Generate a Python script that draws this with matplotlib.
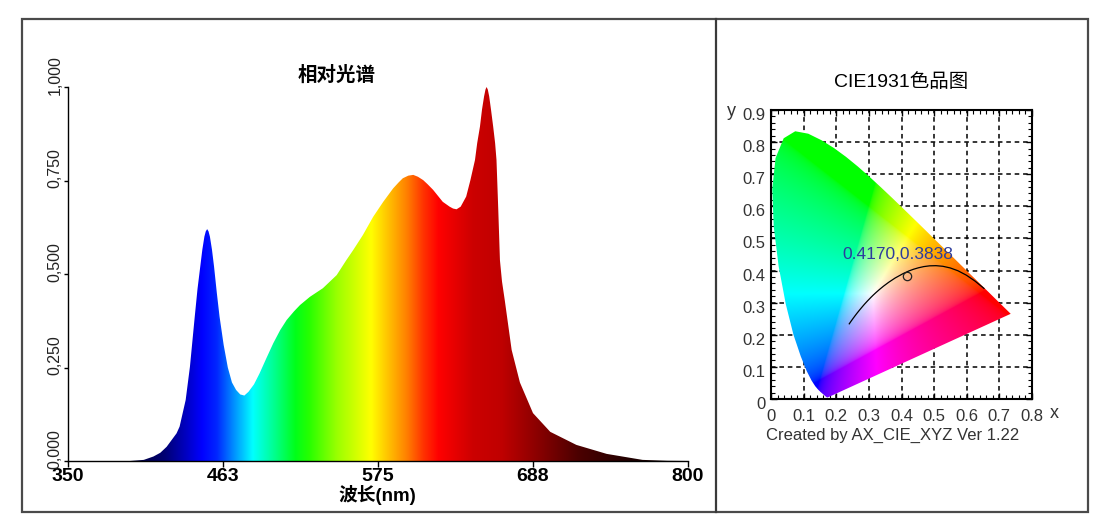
import numpy as np
import matplotlib
matplotlib.use("Agg")
from matplotlib import pyplot as plt
from matplotlib.patches import Polygon, Rectangle
from matplotlib.lines import Line2D
from matplotlib.transforms import ScaledTranslation

# relative spectrum
wavelength = [350, 380, 395, 405, 412, 417, 421.6, 426, 428.8, 431, 435.4, 438.5, 442, 444,
              446, 447.5, 449, 450, 451, 452, 453, 454.5, 456, 458, 460, 463, 466, 469, 472,
              475, 478, 481, 485, 489, 494, 499, 504, 508.7, 514, 518.4, 525.6, 535, 545,
              552, 557, 564, 571.5, 578.8, 586, 590, 593, 597, 600.6, 604, 607.8, 611, 615,
              622, 627, 629.5, 632, 635, 639, 642, 645.4, 647, 649, 650.5, 652, 653, 653.8,
              654.7, 655.7, 657, 658.6, 660, 661, 662.3, 663.5, 665, 667, 672, 678, 687.5,
              700, 719, 741, 767, 785, 800]
intensity = [0, 0, 0, 0.003, 0.012, 0.022, 0.038, 0.06, 0.074, 0.092, 0.163, 0.252, 0.386, 0.46,
             0.52, 0.565, 0.6, 0.614, 0.62, 0.614, 0.6, 0.565, 0.52, 0.45, 0.386, 0.31, 0.25, 0.21, 0.19,
             0.178, 0.175, 0.185, 0.205, 0.234, 0.275, 0.315, 0.35, 0.377, 0.40, 0.417, 0.439, 0.462, 0.497,
             0.537, 0.564, 0.604, 0.653, 0.693, 0.729, 0.745, 0.756, 0.763, 0.765, 0.760, 0.751, 0.74, 0.725,
             0.693, 0.68, 0.675, 0.673, 0.68, 0.707, 0.75, 0.805, 0.85, 0.894, 0.94, 0.975, 0.993, 1.0,
             0.993, 0.975, 0.94, 0.894, 0.85, 0.805, 0.671, 0.537, 0.48, 0.43, 0.297, 0.21, 0.128,
             0.078, 0.043, 0.019, 0.003, 0.0005, 0]
x_ticks = [350, 462.5, 575, 687.5, 800]
x_ticklabels = ["350", "463", "575", "688", "800"]
y_ticks = [0, 0.25, 0.5, 0.75, 1.0]
y_ticklabels = ["0,000", "0,250", "0,500", "0,750", "1,000"]

# colour stops used for the rainbow fill (wavelength -> rgb)
stop_wl = [350, 400, 420, 435, 447, 458, 470, 484, 500, 515, 525, 545, 570, 583, 596,
           608, 619, 644, 665, 690, 720, 760, 800]
stop_rgb = [(0, 0, 0.05), (0, 0, 0.25), (0, 0, 0.45), (0, 0, 0.75), (0, 0, 1), (0, 0.15, 1),
            (0, 0.55, 1), (0, 1, 1), (0, 1, 0.55), (0, 1, 0.1), (0.15, 1, 0), (0.6, 1, 0),
            (1, 1, 0), (1, 0.75, 0), (1, 0.5, 0), (1, 0.2, 0), (1, 0, 0), (0.8, 0, 0),
            (0.75, 0, 0), (0.55, 0, 0), (0.3, 0, 0), (0.12, 0, 0), (0.05, 0, 0)]

# CIE 1931 spectral locus, 380-700 nm in 5 nm steps
locus_x = [0.1741, 0.1740, 0.1738, 0.1736, 0.1733, 0.1730, 0.1726, 0.1721, 0.1714, 0.1703,
           0.1689, 0.1669, 0.1644, 0.1611, 0.1566, 0.1510, 0.1440, 0.1355, 0.1241, 0.1096,
           0.0913, 0.0687, 0.0454, 0.0235, 0.0082, 0.0039, 0.0139, 0.0389, 0.0743, 0.1142,
           0.1547, 0.1929, 0.2296, 0.2658, 0.3016, 0.3373, 0.3731, 0.4087, 0.4441, 0.4788,
           0.5125, 0.5448, 0.5752, 0.6029, 0.6270, 0.6482, 0.6658, 0.6801, 0.6915, 0.7006,
           0.7079, 0.7140, 0.7190, 0.7230, 0.7260, 0.7283, 0.7300, 0.7311, 0.7320, 0.7327,
           0.7334, 0.7340, 0.7344, 0.7346, 0.7347]
locus_y = [0.0050, 0.0050, 0.0049, 0.0049, 0.0048, 0.0048, 0.0048, 0.0048, 0.0051, 0.0058,
           0.0069, 0.0086, 0.0109, 0.0138, 0.0177, 0.0227, 0.0297, 0.0399, 0.0578, 0.0868,
           0.1327, 0.2007, 0.2950, 0.4127, 0.5384, 0.6548, 0.7502, 0.8120, 0.8338, 0.8262,
           0.8059, 0.7816, 0.7543, 0.7243, 0.6923, 0.6589, 0.6245, 0.5896, 0.5547, 0.5202,
           0.4866, 0.4544, 0.4242, 0.3965, 0.3725, 0.3514, 0.3340, 0.3197, 0.3083, 0.2993,
           0.2920, 0.2859, 0.2809, 0.2770, 0.2740, 0.2717, 0.2700, 0.2689, 0.2680, 0.2673,
           0.2666, 0.2660, 0.2656, 0.2654, 0.2653]

# Planckian locus, 1000 K ... infinity
planck_x = [0.6528, 0.6251, 0.5985, 0.5732, 0.5492, 0.5267, 0.5056, 0.4862, 0.4682, 0.4519,
            0.4369, 0.4232, 0.4053, 0.3805, 0.3608, 0.3451, 0.3325, 0.3221, 0.3135, 0.3064,
            0.2952, 0.2869, 0.2807, 0.2719, 0.2637, 0.2565, 0.2501, 0.2453, 0.2399]
planck_y = [0.3444, 0.3674, 0.3858, 0.3993, 0.4082, 0.4133, 0.4152, 0.4147, 0.4123, 0.4086,
            0.4041, 0.3990, 0.3907, 0.3768, 0.3635, 0.3516, 0.3411, 0.3318, 0.3237, 0.3166,
            0.3048, 0.2956, 0.2883, 0.2776, 0.2673, 0.2577, 0.2489, 0.2421, 0.2341]

point_x, point_y = 0.4170, 0.3838
cie_ticks_x = [0, 0.1, 0.2, 0.3, 0.4, 0.5, 0.6, 0.7, 0.8]
cie_ticks_y = [0, 0.1, 0.2, 0.3, 0.4, 0.5, 0.6, 0.7, 0.8, 0.9]

W, H = 1107, 529
fig = plt.figure(figsize=(W / 100, H / 100), dpi=100)
fig.patch.set_facecolor("white")

# outer frame and divider
fig.patches.append(Rectangle((22 / W, 1 - 512 / H), (1088 - 22) / W, (512 - 19) / H,
                             transform=fig.transFigure, fill=False, edgecolor="#4a4a4a",
                             linewidth=1.6))
fig.lines.append(Line2D([715.5 / W, 715.5 / W], [1 - 512 / H, 1 - 19 / H],
                        transform=fig.transFigure, color="#3a3a3a", linewidth=1.6))

# ---- left: relative spectrum ----
ax1 = fig.add_axes([68 / W, 1 - 461 / H, 620 / W, 374 / H])
ax1.set_xlim(350, 800)
ax1.set_ylim(0, 1)
for side in ("top", "right"):
    ax1.spines[side].set_visible(False)
for side in ("left", "bottom"):
    ax1.spines[side].set_color("black")
    ax1.spines[side].set_linewidth(1.0)

grad_wl = np.linspace(350, 800, 900)
grad = np.stack([np.interp(grad_wl, stop_wl, [c[i] for c in stop_rgb]) for i in range(3)], axis=-1)
im = ax1.imshow(grad[None, :, :], extent=[350, 800, 0, 1], aspect="auto", origin="lower",
                interpolation="bilinear", zorder=1)
verts = np.column_stack([np.r_[wavelength[0], wavelength, wavelength[-1]],
                         np.r_[0, intensity, 0]])
shape = Polygon(verts, closed=True, facecolor="none", edgecolor="none")
ax1.add_patch(shape)
im.set_clip_path(shape)

ax1.set_xticks(x_ticks)
ax1.set_xticklabels(x_ticklabels, fontsize=14, fontweight="bold", family="Liberation Sans")
ax1.set_yticks(y_ticks)
ax1.set_yticklabels(y_ticklabels, fontsize=11.5, rotation=90, va="center",
                    family="Liberation Sans", color="#222222")
ax1.tick_params(axis="x", direction="out", length=4, width=1, pad=1)
ax1.tick_params(axis="y", direction="out", length=3, width=1, pad=1)
for lab in ax1.get_yticklabels():
    lab.set_transform(lab.get_transform() + ScaledTranslation(0, 0.12, fig.dpi_scale_trans))

fig.text(337 / W, 1 - 75 / H, "相对光谱", ha="center", va="center", fontsize=14,
         fontweight="bold", family=["Noto Sans CJK SC"])
fig.text(377 / W, 1 - 501 / H, "波长(nm)", ha="center", va="baseline", fontsize=13.5,
         fontweight="bold", family=["Liberation Sans", "Noto Sans CJK SC"])

# ---- right: CIE 1931 chromaticity diagram ----
ax2 = fig.add_axes([771 / W, 1 - 399 / H, 261 / W, 289 / H])
ax2.set_xlim(0, 0.8)
ax2.set_ylim(0, 0.9)

gx, gy = np.meshgrid(np.linspace(0.0005, 0.8, 500), np.linspace(0.0005, 0.9, 560))
X = gx / gy
Z = (1 - gx - gy) / gy
r = 3.2406 * X - 1.5372 - 0.4986 * Z
g = -0.9689 * X + 1.8758 + 0.0415 * Z
b = 0.0557 * X - 0.2040 + 1.0570 * Z
rgb = np.clip(np.stack([r, g, b], axis=-1), 0, None)
rgb = rgb / rgb.max(axis=-1, keepdims=True)
rgb = rgb ** (1 / 2.2)
cie_im = ax2.imshow(rgb, extent=[0.0005, 0.8, 0.0005, 0.9], origin="lower", aspect="auto",
                    interpolation="bilinear", zorder=2)
horseshoe = Polygon(np.column_stack([locus_x, locus_y]), closed=True, facecolor="none",
                    edgecolor="none")
ax2.add_patch(horseshoe)
cie_im.set_clip_path(horseshoe)

ax2.set_axisbelow(True)
ax2.grid(True, which="major", color="black", linestyle=(0, (3, 2.5)), linewidth=1.1)
ax2.set_xticks(cie_ticks_x)
ax2.set_yticks(cie_ticks_y)
ax2.set_xticklabels(["0" if v == 0 else f"{v:g}" for v in cie_ticks_x])
ax2.set_yticklabels(["0" if v == 0 else f"{v:g}" for v in cie_ticks_y])
ax2.set_xticks(np.arange(0, 0.801, 0.02), minor=True)
ax2.set_yticks(np.arange(0, 0.901, 0.02), minor=True)
ax2.tick_params(which="both", direction="in", top=True, right=True, color="black")
ax2.tick_params(which="major", length=4, width=1)
ax2.tick_params(which="minor", length=3, width=0.8)
ax2.tick_params(axis="x", which="major", pad=7, labelsize=12, labelcolor="#333333")
ax2.tick_params(axis="y", which="major", pad=4, labelsize=12, labelcolor="#333333")
for lab in ax2.get_xticklabels() + ax2.get_yticklabels():
    lab.set_family(["Liberation Sans Narrow", "Liberation Sans"])
for lab in ax2.get_yticklabels():
    lab.set_transform(lab.get_transform() + ScaledTranslation(0, -0.04, fig.dpi_scale_trans))
for side in ax2.spines.values():
    side.set_linewidth(1.5)
    side.set_color("black")

ax2.plot(planck_x, planck_y, color="black", linewidth=0.9, zorder=3)
ax2.plot([point_x], [point_y], marker="o", markersize=6, markerfacecolor="none",
         markeredgecolor="#222222", markeredgewidth=0.9, zorder=4)
ax2.annotate(f"{point_x:.4f},{point_y:.4f}", xy=(point_x, point_y), xytext=(-6.5, 15),
             textcoords="offset points", ha="center", va="center", fontsize=12.5,
             color="#2d3c9c", family=["Liberation Sans Narrow", "Liberation Sans"], zorder=5)

fig.text(901 / W, 1 - 82 / H, "CIE1931色品图", ha="center", va="center", fontsize=14,
         family=["Liberation Sans", "Noto Sans CJK SC"])
fig.text(731 / W, 1 - 112 / H, "y", ha="center", va="center", fontsize=13, color="#333333",
         family=["Liberation Sans Narrow", "Liberation Sans"])
fig.text(1054 / W, 1 - 413 / H, "x", ha="center", va="center", fontsize=13, color="#333333",
         family=["Liberation Sans Narrow", "Liberation Sans"])
fig.text(893 / W, 1 - 435 / H, "Created by AX_CIE_XYZ Ver 1.22", ha="center", va="center",
         fontsize=12, color="#333333", family=["Liberation Sans Narrow", "Liberation Sans"])

fig.savefig("out.png", dpi=100)
